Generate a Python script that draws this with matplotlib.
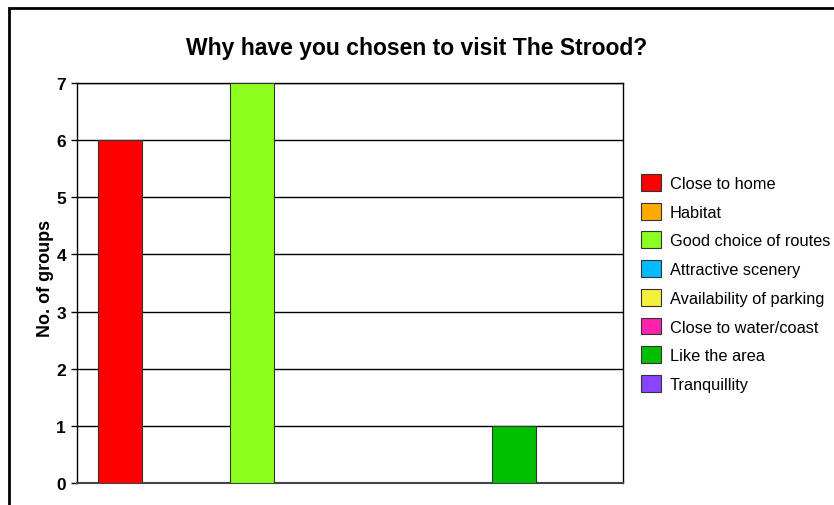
import matplotlib.pyplot as plt
from matplotlib.patches import Patch, Rectangle

plt.rcParams['font.family'] = ['Liberation Sans', 'DejaVu Sans']

# Data
reasons = ['Close to home', 'Habitat', 'Good choice of routes', 'Attractive scenery',
           'Availability of parking', 'Close to water/coast', 'Like the area', 'Tranquillity']
groups = [6, 0, 7, 0, 0, 0, 1, 0]
colours = ['#FF0000', '#FFAA00', '#8CFF1E', '#00BBFF', '#F5F03C', '#FF22AA', '#00BF00', '#8844FF']
yticks = [0, 1, 2, 3, 4, 5, 6, 7]

W, H = 834, 506
fig = plt.figure(figsize=(W / 100, H / 100), dpi=100)
ax = fig.add_axes([77 / W, (H - 484) / H, 546 / W, 400 / H])

# outer chart frame (top and left edges visible)
fig.add_artist(Rectangle((9 / W, -0.1), 1.2, 1.1 - 9 / H, transform=fig.transFigure,
                         fill=False, edgecolor='black', linewidth=2))

x = list(range(len(reasons)))
ax.bar(x, groups, width=0.67, color=colours, edgecolor='#333333', linewidth=0.8, zorder=3)

ax.set_xlim(-0.66, 7.66)
ax.set_ylim(0, 7)
ax.set_yticks(yticks)
ax.set_xticks([])
for t in yticks:
    ax.axhline(t, color='black', linewidth=1, zorder=1)
ax.tick_params(axis='y', length=4, width=1, pad=4, labelsize=12.5)
for lab in ax.get_yticklabels():
    lab.set_fontweight('bold')
for s in ax.spines.values():
    s.set_color('black')
    s.set_linewidth(1)
ax.spines['bottom'].set_linewidth(1.5)
ax.spines['bottom'].set_color('#444444')

ax.set_ylabel('No. of groups', fontsize=13, fontweight='bold')
ax.yaxis.set_label_coords(-0.042, 0.515)

fig.text(417 / W, 1 - 48 / H, 'Why have you chosen to visit The Strood?',
         ha='center', va='center', fontsize=16.5, fontweight='bold')

handles = [Patch(facecolor=c, edgecolor='#333333', linewidth=0.8) for c in colours]
fig.legend(handles, reasons, loc='upper left', bbox_to_anchor=(641 / W, 1 - 175 / H),
           frameon=False, fontsize=11.8, handlelength=1.25, handleheight=1.2,
           labelspacing=0.72, handletextpad=0.5, borderpad=0, borderaxespad=0)

fig.savefig('out.png', dpi=100)
